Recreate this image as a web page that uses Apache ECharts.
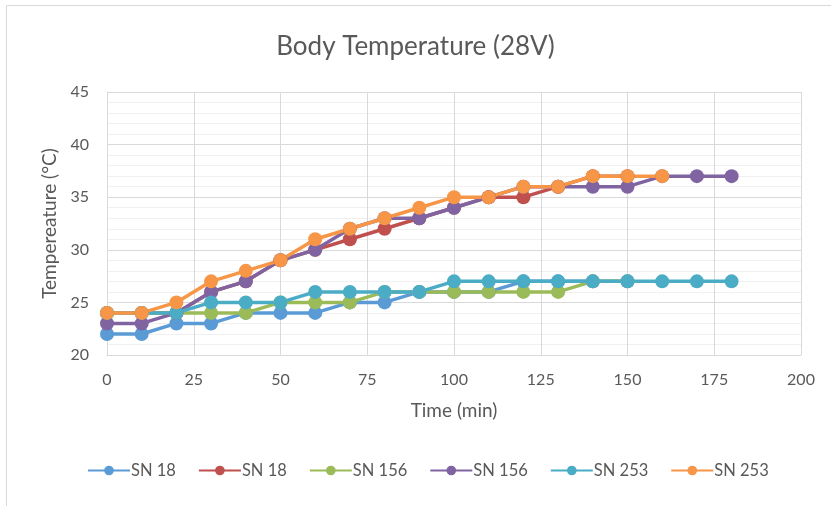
<!DOCTYPE html>
<html><head><meta charset="utf-8">
<script src="https://cdn.jsdelivr.net/npm/echarts@6/dist/echarts.min.js"></script>
<style>html,body{margin:0;padding:0;background:#fff}#c{width:831px;height:506px}</style>
</head><body><div id="c"></div>
<script>
const title = "Body Temperature (28V)";
const xName = "Time (min)";
const yName = "Tempereature (°C)";
const seriesNames = ["SN 18", "SN 18", "SN 156", "SN 156", "SN 253", "SN 253"];
const colors = ["#5B9BD5", "#C0504D", "#9BBB59", "#8064A2", "#4BACC6", "#F79646"];
const times = [0,10,20,30,40,50,60,70,80,90,100,110,120,130,140,150,160,170,180];
const sn18a  = [22,22,23,23,24,24,24,25,25,26,26,26,27,27,27,27];
const sn18b  = [24,24,24,26,27,29,30,31,32,33,34,35,35,36,37,37];
const sn156a = [24,24,24,24,24,25,25,25,26,26,26,26,26,26,27,27];
const sn156b = [23,23,24,26,27,29,30,32,33,33,34,35,36,36,36,36,37,37,37];
const sn253a = [24,24,24,25,25,25,26,26,26,26,27,27,27,27,27,27,27,27,27];
const sn253b = [24,24,25,27,28,29,31,32,33,34,35,35,36,36,37,37,37];
const allSeries = [sn18a, sn18b, sn156a, sn156b, sn253a, sn253b];

const font = "Lato, 'Open Sans', sans-serif";
const uniq = (n,i) => n + '\u200b'.repeat(i%2);
const chart = echarts.init(document.getElementById('c'));
chart.setOption({
  animation: false,
  color: colors,
  graphic: [{type:'rect', shape:{x:6.5,y:5.5,width:840,height:520}, style:{fill:'none',stroke:'#d9d9d9',lineWidth:1}, z:-1}],
  title: {text: title, left: 'center', top: 29, textStyle:{fontFamily:font, fontSize:26, fontWeight:'normal', color:'#595959'}},
  grid: {left:107, right:30, top:92, bottom:151},
  legend: {bottom: 22, left:82, itemWidth:42, itemHeight:12, itemGap:22,
    textStyle:{fontFamily:font, fontSize:16.5, color:'#595959', padding:[0,0,0,-4]}, data: seriesNames.map((n,i)=>({name:uniq(n,i)}))},
  xAxis: {type:'value', min:0, max:200, interval:25, name:xName, nameLocation:'middle', nameGap:46,
    nameTextStyle:{fontFamily:font, fontSize:19, color:'#595959'},
    axisLine:{show:true, lineStyle:{color:'#d9d9d9'}}, axisTick:{show:false},
    axisLabel:{fontFamily:font, fontSize:16, color:'#595959', margin:17},
    splitLine:{show:true, lineStyle:{color:'#d9d9d9'}}},
  yAxis: {type:'value', min:20, max:45, interval:5, name:yName, nameLocation:'middle', nameGap:46,
    nameTextStyle:{fontFamily:font, fontSize:19, color:'#595959'},
    axisLine:{show:true, lineStyle:{color:'#d9d9d9'}}, axisTick:{show:false},
    axisLabel:{fontFamily:font, fontSize:16, color:'#595959', margin:18},
    splitLine:{show:true, lineStyle:{color:'#d9d9d9'}},
    minorTick:{show:false, splitNumber:5},
    minorSplitLine:{show:true, lineStyle:{color:'#f0f0f0'}}},
  series: allSeries.map((d,i)=>({
    name: uniq(seriesNames[i], i),
    type:'line',
    data: d.map((v,j)=>[times[j], v]),
    symbol:'circle', symbolSize:14,
    lineStyle:{width:3.5, color:colors[i]},
    itemStyle:{color:colors[i]}
  }))
});
</script></body></html>
